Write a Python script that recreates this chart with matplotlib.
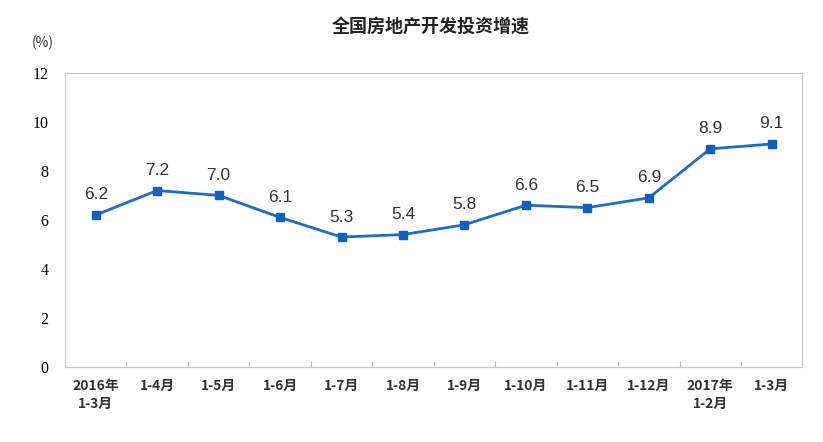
import numpy as np
import matplotlib.pyplot as plt

plt.rcParams['font.family'] = ['Noto Sans CJK SC', 'DejaVu Sans']

categories = ['2016年\n1-3月', '1-4月', '1-5月', '1-6月', '1-7月', '1-8月', '1-9月',
              '1-10月', '1-11月', '1-12月', '2017年\n1-2月', '1-3月']
growth = [6.2, 7.2, 7.0, 6.1, 5.3, 5.4, 5.8, 6.6, 6.5, 6.9, 8.9, 9.1]
yticks = [0, 2, 4, 6, 8, 10, 12]

fig = plt.figure(figsize=(8.23, 4.42), dpi=100)
ax = fig.add_axes([0.079, 0.170, 0.896, 0.665])

x = np.arange(len(growth))
ax.plot(x, growth, color='#1f6cc0', lw=2, marker='s', ms=6, mec='#1060c0', mfc='#1060c0')
for xi, v in zip(x, growth):
    ax.annotate(f'{v:.1f}', (xi, v), xytext=(0, 9), textcoords='offset points',
                ha='center', va='bottom', fontsize=12.5, family='Liberation Sans', color='#333333')

ax.set_xlim(-0.5, len(growth) - 0.5)
ax.set_ylim(0, 12)
ax.set_yticks(yticks)
ax.set_yticklabels([str(t) for t in yticks], fontsize=11.5, family='Liberation Serif')
ax.tick_params(axis='y', length=0, pad=12)

# category boundaries carry the tick marks, labels sit at the centers
ax.set_xticks(np.arange(-0.5, len(growth), 1.0))
ax.set_xticklabels([])
ax.tick_params(axis='x', direction='in', length=4, color='#bfbfbf')
ax.set_xticks(x, minor=True)
ax.set_xticklabels(categories, minor=True, fontsize=10, fontweight='bold', color='#333333',
                   linespacing=1.3)
ax.tick_params(axis='x', which='minor', length=0, pad=9)

for s in ax.spines.values():
    s.set_color('#c8c8c8')

fig.text(0.052, 0.893, '(%)', fontsize=10, ha='center', color='#333333')
fig.text(0.523, 0.94, '全国房地产开发投资增速', fontsize=13, ha='center', va='center',
         fontweight='bold', color='#222222')

fig.savefig('out.png', dpi=100)
